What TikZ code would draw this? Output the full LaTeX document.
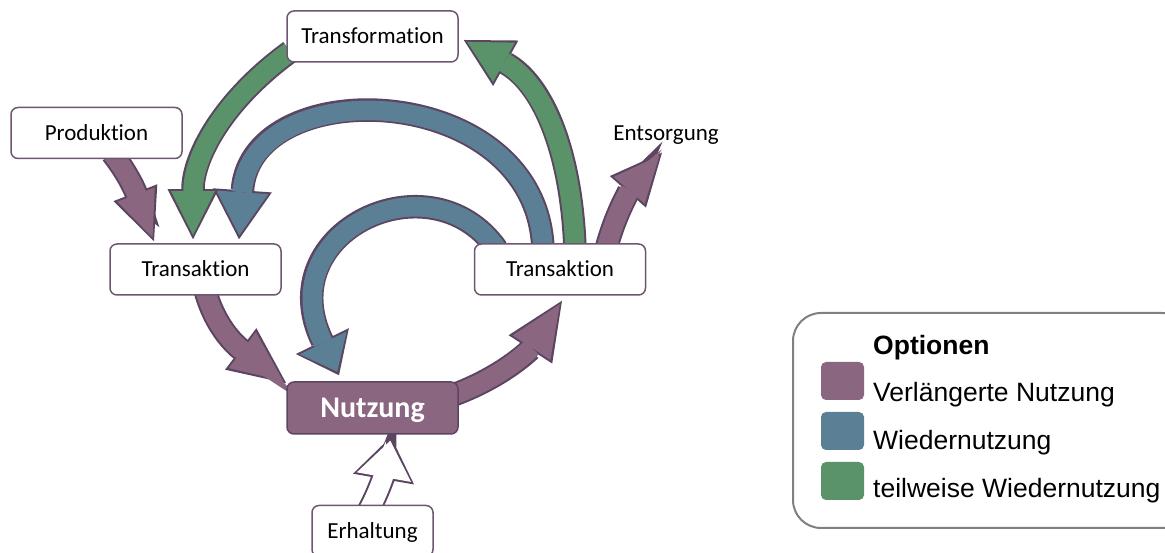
\documentclass[tikz,border=0pt]{standalone}
\usepackage{fontspec}
\setmainfont{Carlito}[Ligatures=NoCommon]
\newfontfamily\legendfont{Liberation Sans}
\usetikzlibrary{arrows.meta}
\usetikzlibrary{backgrounds}

\definecolor{purp}{HTML}{8A6680}
\definecolor{blu}{HTML}{5B7F94}
\definecolor{grn}{HTML}{5A9369}
\definecolor{rimc}{HTML}{5C4561}
\definecolor{boxc}{HTML}{6F5670}
\definecolor{legc}{HTML}{808080}

% wide arrow with a dark rim: colour, head width, head length, path
\newcommand{\bandarrow}[4]{%
  \pgfmathsetmacro{\rimw}{#2+7}%
  \pgfmathsetmacro{\riml}{#3+6}%
  \draw[rim, -{Triangle[length=\riml pt, width=\rimw pt, line width=0pt]}] #4;
  \draw[band, draw=#1, shorten >=4pt, -{Triangle[length=#3pt, width=#2pt, line width=0pt]}] #4;
}

\begin{document}
\begin{tikzpicture}[x=1pt, y=1pt,
    box/.style={draw=boxc, line width=1.5pt, rounded corners=7pt, fill=white,
      minimum width=171pt, minimum height=51pt, inner sep=0pt,
      text height=14.8pt, text depth=0pt, font=\fontsize{23}{28}\selectfont},
    usebox/.style={box, fill=purp, draw=rimc, text=white, minimum height=52pt,
      text height=19.3pt, font=\bfseries\fontsize{30}{36}\selectfont},
    plain/.style={inner sep=0pt, text height=14.8pt, text depth=0pt,
      font=\fontsize{23}{28}\selectfont},
    band/.style={line width=19.5pt},
    rim/.style={line width=23.5pt, draw=rimc},
    legtext/.style={inner sep=0pt, anchor=base west,
      font=\legendfont\fontsize{26.5}{32}\selectfont},
    legsq/.style={rounded corners=5pt, minimum width=43pt, minimum height=38pt, inner sep=0pt}]
  \useasboundingbox (0,0) rectangle (1165,553);

  % Boxes
  \node[box] (trf) at (372.5,516.5) {Transformation};
  \node[box] (prod) at (96.5,420) {Produktion};
  \node[box] (tl) at (195.5,283.5) {Transaktion};
  \node[box] (tr) at (560,283.5) {Transaktion};
  \node[usebox] (nutz) at (372.5,145) {Nutzung};
  \node[box, minimum width=121pt] (erh) at (372.5,22) {Erhaltung};
  \node[plain] (ents) at (666,420) {Entsorgung};

  \begin{scope}[on background layer]
    \fill[white] (0,0) rectangle (1165,553);
    % Wiedernutzung
    \bandarrow{blu}{52}{43}{([xshift=-17pt,yshift=-6pt]tr.north) to[out=92,in=86,looseness=1.42] ([xshift=43.5pt,yshift=4pt]tl.north)}
    \bandarrow{blu}{52}{32}{([xshift=-63pt,yshift=-6pt]tr.north) .. controls +(125:115) and +(116:160) .. ([xshift=-33.5pt,yshift=6pt]nutz.north)}
    % teilweise Wiedernutzung
    \bandarrow{grn}{44}{44}{([xshift=4pt,yshift=-15pt]trf.west) to[out=216,in=90] ([xshift=-2.5pt,yshift=4pt]tl.north)}
    \bandarrow{grn}{45}{42}{([xshift=15pt,yshift=-6pt]tr.north) to[out=92,in=-29] ([xshift=5pt,yshift=-3.5pt]trf.east)}
    % verlaengerte Nutzung
    \bandarrow{purp}{40}{46}{([xshift=15.5pt,yshift=6pt]prod.south) to[out=-52,in=111] ([xshift=-41.5pt,yshift=2pt]tl.north)}
    \bandarrow{purp}{45}{51}{([xshift=9.5pt,yshift=6pt]tl.south) to[out=-75,in=143] ([yshift=-2pt]nutz.north west)}
    \bandarrow{purp}{45}{52}{([xshift=-8pt,yshift=12pt]nutz.east) to[out=20,in=237] ([xshift=2pt,yshift=-5pt]tr.south)}
    \bandarrow{purp}{41}{46}{([xshift=46pt,yshift=-6pt]tr.north) to[out=75,in=229] ([xshift=-4pt,yshift=-12pt]ents.south)}
    % Erhaltung
    \bandarrow{white}{55}{37}{([xshift=-4pt,yshift=-6pt]erh.north) to[out=62,in=-100] ([xshift=18.5pt,yshift=-2pt]nutz.south)}
  \end{scope}

  % Legend
  \draw[legc, line width=2pt, rounded corners=28pt] (793,240) rectangle (1190,25);
  \node[legtext, font=\legendfont\bfseries\fontsize{26.5}{32}\selectfont] (opt) at (873,198) {Optionen};
  \foreach \col/\txt/\y/\b [count=\i] in {purp/Verlängerte Nutzung/172/151, blu/Wiedernutzung/122/103, grn/teilweise Wiedernutzung/72/55}{
    \node[legsq, fill=\col] (sq\i) at (842.5,\y) {};
    \node[legtext] (lg\i) at (873,\b) {\txt};
  }
\end{tikzpicture}
\end{document}
